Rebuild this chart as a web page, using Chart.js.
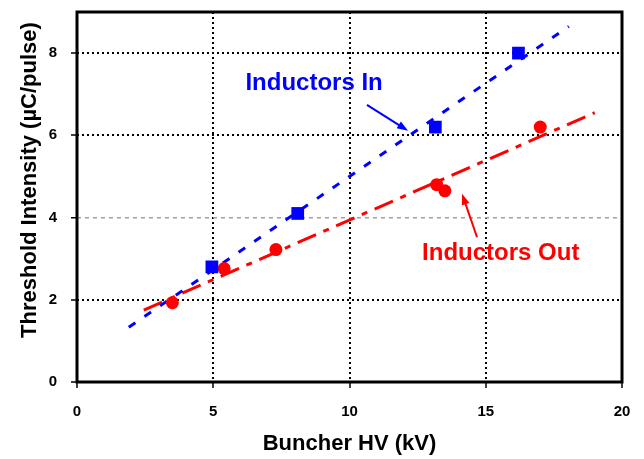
<!DOCTYPE html>
<html>
<head>
<meta charset="utf-8">
<script src="https://cdn.jsdelivr.net/npm/chart.js@4.4.1/dist/chart.umd.min.js"></script>
<style>
  html, body { margin: 0; padding: 0; background: #fff; }
  #wrap { width: 644px; height: 459px; position: relative; }
</style>
</head>
<body>
<div id="wrap"><canvas id="chart-hv"></canvas></div>
<script>
const xTicks = [0, 5, 10, 15, 20];
const yTicks = [0, 2, 4, 6, 8];

// measured points
const inX = [4.95, 8.1, 13.15, 16.2];
const inY = [2.8, 4.1, 6.2, 8.0];
const outX = [3.5, 5.4, 7.3, 13.2, 13.5, 17.0];
const outY = [1.93, 2.76, 3.22, 4.8, 4.65, 6.2];

// fitted lines (end points)
const inFitX = [1.9, 18.05];
const inFitY = [1.33, 8.65];
const outFitX = [2.45, 19.0];
const outFitY = [1.75, 6.55];

// text labels + arrows, in data units
const labelText = ["Inductors In", "Inductors Out"];
const labelColor = ["#0000ff", "#ff0000"];
const labelX = [8.7, 15.55];
const labelY = [7.27, 3.12];
const arrowFromX = [10.64, 14.68];
const arrowFromY = [6.74, 3.52];
const arrowToX = [12.15, 14.13];
const arrowToY = [6.11, 4.58];

const yTitle = "Threshold Intensity (\u00b5C/pulse)";
const xTitle = "Buncher HV (kV)";

const toPts = (xs, ys) => xs.map((x, i) => ({ x: x, y: ys[i] }));

const tickFont = { family: "'Liberation Sans Narrow', 'Liberation Sans', Arial, sans-serif", size: 15, weight: "bold" };

const extras = {
  id: "extras",
  beforeDatasetsDraw(chart) {
    const { ctx, chartArea: a } = chart;
    ctx.save();
    ctx.strokeStyle = "#000";
    ctx.lineWidth = 3;
    ctx.setLineDash([]);
    ctx.strokeRect(a.left, a.top, a.right - a.left, a.bottom - a.top);
    ctx.restore();
  },
  afterDatasetsDraw(chart) {
    const { ctx } = chart;
    const xs = chart.scales.x, ys = chart.scales.y;
    ctx.save();
    ctx.font = "bold 24px 'Liberation Sans', Arial, sans-serif";
    ctx.textAlign = "center";
    ctx.textBaseline = "middle";
    for (let i = 0; i < labelText.length; i++) {
      ctx.fillStyle = labelColor[i];
      ctx.fillText(labelText[i], xs.getPixelForValue(labelX[i]), ys.getPixelForValue(labelY[i]));
      const x1 = xs.getPixelForValue(arrowFromX[i]), y1 = ys.getPixelForValue(arrowFromY[i]);
      const x2 = xs.getPixelForValue(arrowToX[i]), y2 = ys.getPixelForValue(arrowToY[i]);
      const ang = Math.atan2(y2 - y1, x2 - x1);
      ctx.strokeStyle = labelColor[i];
      ctx.lineWidth = 2;
      ctx.beginPath();
      ctx.moveTo(x1, y1);
      ctx.lineTo(x2 - 6 * Math.cos(ang), y2 - 6 * Math.sin(ang));
      ctx.stroke();
      ctx.beginPath();
      ctx.moveTo(x2, y2);
      ctx.lineTo(x2 - 11 * Math.cos(ang) + 4 * Math.sin(ang), y2 - 11 * Math.sin(ang) - 4 * Math.cos(ang));
      ctx.lineTo(x2 - 11 * Math.cos(ang) - 4 * Math.sin(ang), y2 - 11 * Math.sin(ang) + 4 * Math.cos(ang));
      ctx.closePath();
      ctx.fill();
    }
    // y axis title
    ctx.fillStyle = "#000";
    ctx.font = "bold 22px 'Liberation Sans', Arial, sans-serif";
    ctx.translate(30, 180);
    ctx.rotate(-Math.PI / 2);
    ctx.fillText(yTitle, 0, 0);
    ctx.restore();
  }
};

document.addEventListener("DOMContentLoaded", function () {
  const ctx = document.getElementById("chart-hv").getContext("2d");

  new Chart(ctx, {
    type: "scatter",
    data: {
      datasets: [
        {
          label: "Inductors In",
          data: toPts(inX, inY),
          pointStyle: "rect",
          pointRadius: 9,
          backgroundColor: "#0000ff",
          borderColor: "#0000ff",
          borderWidth: 0,
          order: 0,
        },
        {
          label: "Inductors Out",
          data: toPts(outX, outY),
          pointStyle: "circle",
          pointRadius: 6.5,
          backgroundColor: "#ff0000",
          borderColor: "#ff0000",
          borderWidth: 0,
          order: 0,
        },
        {
          label: "In fit",
          data: toPts(inFitX, inFitY),
          showLine: true,
          pointRadius: 0,
          borderColor: "#0000ff",
          borderWidth: 3,
          borderDash: [8, 11],
          order: 1,
        },
        {
          label: "Out fit",
          data: toPts(outFitX, outFitY),
          showLine: true,
          pointRadius: 0,
          borderColor: "#ff0000",
          borderWidth: 3,
          borderDash: [20, 8, 6, 8],
          order: 1,
        },
      ],
    },
    options: {
      responsive: true,
      maintainAspectRatio: false,
      animation: false,
      layout: { padding: { top: 12, right: 22, left: 0, bottom: 0 } },
      plugins: {
        legend: { display: false },
        tooltip: { enabled: false },
      },
      scales: {
        x: {
          type: "linear",
          min: 0,
          max: 20,
          afterBuildTicks: (s) => { s.ticks = xTicks.map((v) => ({ value: v })); },
          afterFit: (s) => { s.height = 77; s.paddingLeft = 0; s.paddingRight = 0; },
          title: {
            display: true,
            text: xTitle,
            color: "#000",
            font: { family: "'Liberation Sans', Arial, sans-serif", size: 22, weight: "bold" },
            padding: { top: 0, bottom: 2 },
          },
          ticks: { color: "#000", font: tickFont, padding: 15, maxRotation: 0 },
          grid: {
            color: (c) => (c.tick && (c.tick.value === 0 || c.tick.value === 20) ? "rgba(0,0,0,0)" : "#000"),
            lineWidth: 2,
            tickColor: "#000",
            tickLength: 6,
            tickWidth: 1.5,
            tickBorderDash: [],
          },
          border: { display: false, dash: [2, 3] },
        },
        y: {
          type: "linear",
          min: 0,
          max: 9,
          afterBuildTicks: (s) => { s.ticks = yTicks.map((v) => ({ value: v })); },
          afterFit: (s) => { s.width = 77; s.paddingTop = 0; s.paddingBottom = 0; },
          ticks: { color: "#000", font: tickFont, padding: 14 },
          grid: {
            color: (c) => {
              if (!c.tick) return "#000";
              if (c.tick.value === 0) return "rgba(0,0,0,0)";
              return c.tick.value === 4 ? "#a0a0a0" : "#000";
            },
            lineWidth: (c) => (c.tick && c.tick.value === 4 ? 1.5 : 2),
            tickColor: "#000",
            tickLength: 6,
            tickWidth: 1.5,
            tickBorderDash: [],
          },
          border: {
            display: false,
            dash: (c) => (c.tick && c.tick.value === 4 ? [4, 4] : [2, 3]),
          },
        },
      },
    },
    plugins: [extras],
  });
});
</script>
</body>
</html>
